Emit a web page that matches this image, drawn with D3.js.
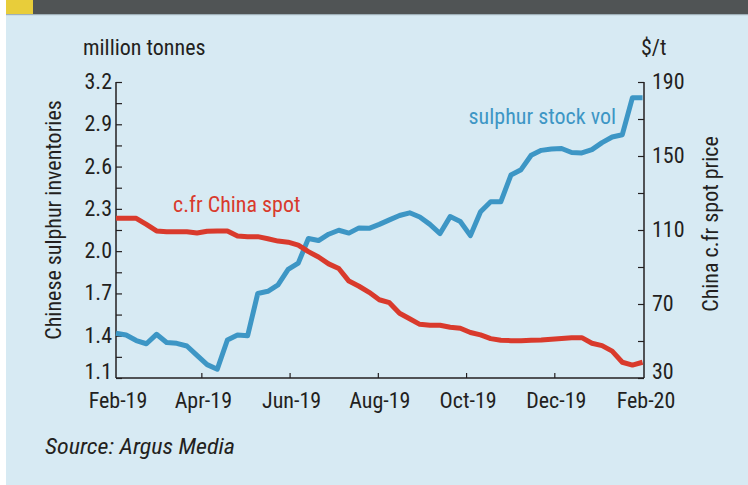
<!DOCTYPE html>
<html><head><meta charset="utf-8">
<script src="https://cdn.jsdelivr.net/npm/d3@7"></script>
<style>
html,body{margin:0;padding:0;background:#fff;}
svg{display:block;}
text{font-family:"Liberation Sans Narrow","Roboto Condensed","Liberation Sans",sans-serif;fill:#231f20;}
</style></head>
<body>
<svg id="chart" width="748" height="485"></svg>
<script>
// ---- data ----
const startDate = "2019-02-01";          // first weekly observation
const stockVol = [1.417,1.405,1.366,1.343,1.41,1.352,1.346,1.327,1.26,1.195,1.162,1.37,1.405,1.40,1.70,1.715,1.76,1.87,1.915,2.09,2.075,2.12,2.148,2.128,2.165,2.162,2.19,2.222,2.253,2.272,2.242,2.19,2.125,2.245,2.21,2.11,2.28,2.35,2.35,2.54,2.578,2.68,2.715,2.725,2.728,2.70,2.697,2.72,2.77,2.81,2.826,3.089,3.089];
const spotPrice = [116.3,116.3,116.3,113,109.5,109.1,109.1,109.1,108.4,109.3,109.5,109.5,106.8,106.4,106.4,105.3,104,103.4,101.8,98.3,95.4,91.7,89.2,82.4,79.6,76.3,72.3,70.7,65,62,59,58.5,58.5,57.4,56.9,54.6,53.3,51.3,50.4,50.2,50.2,50.4,50.6,51,51.4,51.8,51.8,48.8,47.5,44.5,38.5,37,38.5];
const leftTicks = [1.1,1.4,1.7,2.0,2.3,2.6,2.9,3.2];
const rightTicks = [30,70,110,150,190];
const xTickLabels = ["Feb-19","Apr-19","Jun-19","Aug-19","Oct-19","Dec-19","Feb-20"];
const xDomain = ["2019-02-01","2020-02-01"];

const parse = d3.timeParse("%Y-%m-%d");
const parseLabel = d3.timeParse("%b-%y");
const t0 = parse(startDate);
const dates = stockVol.map((_, i) => d3.timeDay.offset(t0, 7 * i));

const svg = d3.select("#chart");

// background & header
svg.append("rect").attr("x",6).attr("y",0).attr("width",742).attr("height",485).attr("fill","#d7eaf3");
svg.append("rect").attr("x",6).attr("y",0).attr("width",742).attr("height",14).attr("fill","#505455");
svg.append("rect").attr("x",6).attr("y",14).attr("width",742).attr("height",1.2).attr("fill","#9fb0b8");
svg.append("rect").attr("x",6).attr("y",0).attr("width",27).attr("height",14).attr("fill","#e8cd3a");

const x = d3.scaleTime().domain(xDomain.map(parse)).range([116, 644]);
const yL = d3.scaleLinear().domain([1.1, 3.2]).range([378, 82]);
const yR = d3.scaleLinear().domain([30, 190]).range([378, 82]);

const axisColor = "#231f20";
const FS = "22px";

// left axis
const leftAll = d3.range(0, 15).map(i => +(1.1 + i * 0.15).toFixed(2));
const gL = svg.append("g").attr("transform","translate(116,0)")
  .call(d3.axisRight(yL).tickValues(leftAll).tickSize(6).tickFormat(""));
gL.select(".domain").remove();
gL.selectAll("line").attr("stroke",axisColor).attr("stroke-width",1.2);
svg.append("line").attr("x1",116).attr("x2",116).attr("y1",yL(3.2)).attr("y2",378).attr("stroke",axisColor).attr("stroke-width",1.5);
svg.append("g").selectAll("text").data(leftTicks).join("text")
  .attr("x",112).attr("y",(d,i)=> i===0 ? yL(d)+1 : yL(d)+7).attr("text-anchor","end")
  .style("font-size",FS).text(d=>d.toFixed(1));

// right axis
const rightAll = d3.range(30, 191, 20);
const gR = svg.append("g").attr("transform","translate(644,0)")
  .call(d3.axisLeft(yR).tickValues(rightAll).tickSize(6).tickFormat(""));
gR.select(".domain").remove();
gR.selectAll("line").attr("stroke",axisColor).attr("stroke-width",1.2);
svg.append("line").attr("x1",644).attr("x2",644).attr("y1",yR(190)).attr("y2",378).attr("stroke",axisColor).attr("stroke-width",1.5);
svg.append("g").selectAll("text").data(rightTicks).join("text")
  .attr("x",652).attr("y",(d,i)=> i===0 ? yR(d)+1 : yR(d)+7).attr("text-anchor","start")
  .style("font-size",FS).text(d=>d);

// bottom axis
const xTicks = xTickLabels.map(parseLabel);
const gX = svg.append("g").attr("transform","translate(0,378)")
  .call(d3.axisTop(x).tickValues(xTicks.slice(1,-1)).tickSize(5).tickFormat(""));
gX.select(".domain").remove();
gX.selectAll("line").attr("stroke",axisColor).attr("stroke-width",1.2);
svg.append("line").attr("x1",116).attr("x2",644).attr("y1",378).attr("y2",378).attr("stroke",axisColor).attr("stroke-width",1.5);
svg.append("g").selectAll("text").data(xTicks).join("text")
  .attr("x",(d)=>x(d)+2).attr("y",408).attr("text-anchor","middle")
  .style("font-size",FS).text((d,i)=>xTickLabels[i]);

// axis titles
svg.append("text").attr("x",83).attr("y",55).style("font-size",FS).text("million tonnes");
svg.append("text").attr("x",641).attr("y",55).style("font-size",FS).text("$/t");
svg.append("text").attr("transform","translate(61,220) rotate(-90)").attr("text-anchor","middle")
  .style("font-size",FS).text("Chinese sulphur inventories");
svg.append("text").attr("transform","translate(718,224) rotate(-90)").attr("text-anchor","middle")
  .style("font-size",FS).text("China c.fr spot price");

// lines
const blue = "#3d96c5", red = "#d93a2c";
const lineL = d3.line().x((d,i)=>x(dates[i])).y(d=>yL(d));
const lineR = d3.line().x((d,i)=>x(dates[i])).y(d=>yR(d));
svg.append("path").datum(stockVol).attr("d",lineL).attr("fill","none")
  .attr("stroke",blue).attr("stroke-width",5).attr("stroke-linejoin","round");
svg.append("path").datum(spotPrice).attr("d",lineR).attr("fill","none")
  .attr("stroke",red).attr("stroke-width",5).attr("stroke-linejoin","round");

// series labels
svg.append("text").attr("x",173).attr("y",212).style("font-size",FS).style("fill",red).text("c.fr China spot");
svg.append("text").attr("x",616).attr("y",124).attr("text-anchor","end").style("font-size",FS).style("fill",blue).text("sulphur stock vol");

// source
svg.append("text").attr("x",45).attr("y",454).style("font-size","22px").style("font-style","italic")
  .attr("textLength",190).attr("lengthAdjust","spacingAndGlyphs").text("Source: Argus Media");
</script>
</body></html>
